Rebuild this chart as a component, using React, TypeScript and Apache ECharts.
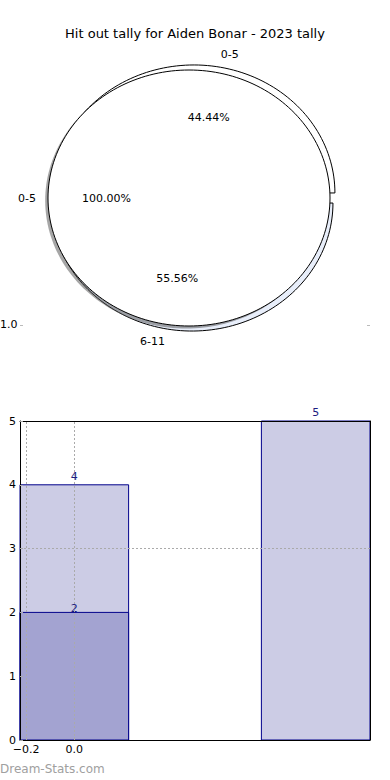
import { useEffect, useRef } from 'react';
import * as echarts from 'echarts';

const TITLE = 'Hit out tally for Aiden Bonar - 2023 tally';
const WATERMARK = 'Dream-Stats.com';

// Pie (per band) data
const pieCategories = ['0-5', '6-11'];
const pieValues = [4, 5];
// Overlaid single-slice pie
const totalCategories = ['0-5'];
const totalValues = [1];

// Bar data
const barPositions = [0, 1];
const barTotals = [4, 5];
const barSubPositions = [0];
const barSubValues = [2];
const xTickValues = [-0.2, 0.0];
const gridXValues = [-0.2, 0.0];
const gridYValues = [3];
const leftoverTickLabel = '1.0';

const FONT = 'DejaVu Sans, sans-serif';
const BAR_HALF = 0.225;

function fmtTick(v: number) {
  const s = Math.abs(v).toFixed(1);
  return v < 0 ? '\u2212' + s : s;
}

function makePieRender(
  names: string[],
  values: number[],
  fills: string[],
  explode: number,
  shadow: boolean,
  mode: 'shape' | 'label',
  cx: number
) {
  const total = values.reduce((a, b) => a + b, 0);
  return (params: any, api: any) => {
    const i = params.dataIndex;
    let before = 0;
    for (let j = 0; j < i; j++) before += values[j];
    const a0 = (before / total) * Math.PI * 2;
    const a1 = ((before + values[i]) / total) * Math.PI * 2;
    const mid = (a0 + a1) / 2;
    const full = values[i] === total;
    const ex = cx + (full ? 0 : explode * Math.cos(mid));
    const ey = full ? 0 : explode * Math.sin(mid);
    const children: any[] = [];
    if (mode === 'shape') {
      const build = (dx: number, dy: number) => {
        const pts: number[][] = [];
        if (!full) pts.push(api.coord([ex + dx, ey + dy]));
        const n = Math.max(12, Math.ceil(((a1 - a0) / (Math.PI * 2)) * 200));
        for (let k = 0; k <= n; k++) {
          const t = a0 + ((a1 - a0) * k) / n;
          pts.push(api.coord([ex + dx + Math.cos(t), ey + dy + Math.sin(t)]));
        }
        return pts;
      };
      if (shadow) {
        children.push({
          type: 'polygon',
          shape: { points: build(-0.02, -0.02) },
          style: { fill: 'rgba(77,77,77,0.5)', stroke: 'none' },
        });
      }
      children.push({
        type: 'polygon',
        shape: { points: build(0, 0) },
        style: { fill: fills[i % fills.length], stroke: '#000', lineWidth: 1 },
      });
    } else {
      const lp = api.coord([ex + 0.6 * Math.cos(mid), ey + 0.6 * Math.sin(mid)]);
      children.push({
        type: 'text',
        x: lp[0],
        y: lp[1],
        style: {
          text: ((values[i] / total) * 100).toFixed(2) + '%',
          fill: '#000',
          font: '11px ' + FONT,
          align: 'center',
          verticalAlign: 'middle',
        },
      });
      const np = api.coord([ex + 1.1 * Math.cos(mid), ey + 1.1 * Math.sin(mid)]);
      children.push({
        type: 'text',
        x: np[0],
        y: np[1],
        style: {
          text: names[i],
          fill: '#000',
          font: '11px ' + FONT,
          align: Math.cos(mid) >= 0 ? 'left' : 'right',
          verticalAlign: 'middle',
        },
      });
    }
    return { type: 'group', children };
  };
}

function makeBarRender(fill: string, labelOffset: number) {
  return (params: any, api: any) => {
    const x = api.value(0);
    const v = api.value(1);
    const tl = api.coord([x - BAR_HALF, v]);
    const br = api.coord([x + BAR_HALF, 0]);
    return {
      type: 'group',
      children: [
        {
          type: 'rect',
          shape: { x: tl[0], y: tl[1], width: br[0] - tl[0], height: br[1] - tl[1] },
          style: { fill, stroke: '#00008b', lineWidth: 1 },
        },
        {
          type: 'text',
          x: (tl[0] + br[0]) / 2,
          y: tl[1] - labelOffset,
          style: {
            text: String(v),
            fill: '#1c1c80',
            font: '11px ' + FONT,
            align: 'center',
            verticalAlign: 'bottom',
          },
        },
      ],
    };
  };
}

export default function App() {
  const ref = useRef<HTMLDivElement>(null);
  useEffect(() => {
    if (!ref.current) return;
    const chart = echarts.init(ref.current, null, { renderer: 'svg' });
    const axisLine = { show: true, onZero: false, lineStyle: { color: '#000', width: 1 } };
    const pieData = pieValues.map((v, i) => [i, v]);
    const totalData = totalValues.map((v, i) => [i, v]);
    const outerFills = ['#ffffff', '#e8eefa'];
    const OUTER_CX = 0.028;
    const EXPLODE = 0.04;
    const option: any = {
      animation: false,
      backgroundColor: '#fff',
      textStyle: { fontFamily: FONT },
      title: {
        text: TITLE,
        left: 'center',
        top: 22,
        textStyle: { fontSize: 13, fontWeight: 'normal', color: '#000', fontFamily: FONT },
      },
      grid: [
        { left: 19.8, top: 44.4, width: 338.4, height: 307.2 },
        { left: 20, right: 20, top: 421, bottom: 40 },
      ],
      xAxis: [
        { gridIndex: 0, type: 'value', min: -1.2, max: 1.2, show: false },
        {
          gridIndex: 1,
          type: 'value',
          min: -BAR_HALF,
          max: 1 + BAR_HALF,
          z: 5,
          axisLine,
          axisTick: { show: true, inside: true, length: 3, customValues: xTickValues, lineStyle: { color: '#aaa' } },
          axisLabel: {
            customValues: xTickValues,
            formatter: (v: number) => fmtTick(v),
            color: '#000',
            fontSize: 11,
            fontFamily: FONT,
            margin: 4,
          },
          splitLine: { show: false },
        },
        {
          gridIndex: 1,
          type: 'value',
          position: 'top',
          min: -BAR_HALF,
          max: 1 + BAR_HALF,
          z: 5,
          axisLine,
          axisTick: { show: false },
          axisLabel: { show: false },
          splitLine: { show: false },
        },
      ],
      yAxis: [
        { gridIndex: 0, type: 'value', min: -1.2, max: 1.2, show: false },
        {
          gridIndex: 1,
          type: 'value',
          min: 0,
          max: 5,
          interval: 1,
          z: 5,
          axisLine,
          axisTick: { show: true, inside: true, length: 3, lineStyle: { color: '#aaa' } },
          axisLabel: { color: '#000', fontSize: 11, fontFamily: FONT, margin: 4 },
          splitLine: { show: false },
        },
        {
          gridIndex: 1,
          type: 'value',
          position: 'right',
          min: 0,
          max: 5,
          z: 5,
          axisLine,
          axisTick: { show: false },
          axisLabel: { show: false },
          splitLine: { show: false },
        },
      ],
      series: [
        {
          type: 'custom',
          xAxisIndex: 0,
          yAxisIndex: 0,
          z: 2,
          renderItem: makePieRender(pieCategories, pieValues, outerFills, EXPLODE, false, 'shape', OUTER_CX),
          data: pieData,
        },
        {
          type: 'custom',
          xAxisIndex: 0,
          yAxisIndex: 0,
          z: 3,
          renderItem: makePieRender(totalCategories, totalValues, ['#ffffff'], 0, true, 'shape', 0),
          data: totalData,
        },
        {
          type: 'custom',
          xAxisIndex: 0,
          yAxisIndex: 0,
          z: 4,
          renderItem: makePieRender(pieCategories, pieValues, outerFills, EXPLODE, false, 'label', OUTER_CX),
          data: pieData,
        },
        {
          type: 'custom',
          xAxisIndex: 0,
          yAxisIndex: 0,
          z: 4,
          renderItem: makePieRender(totalCategories, totalValues, ['#ffffff'], 0, false, 'label', 0.015),
          data: totalData,
        },
        {
          type: 'custom',
          xAxisIndex: 1,
          yAxisIndex: 1,
          z: 2,
          renderItem: makeBarRender('#ccccE5', 3),
          data: barPositions.map((x, i) => [x, barTotals[i]]),
        },
        {
          type: 'custom',
          xAxisIndex: 1,
          yAxisIndex: 1,
          z: 3,
          renderItem: makeBarRender('#a3a3d1', -2),
          data: barSubPositions.map((x, i) => [x, barSubValues[i]]),
        },
        {
          type: 'line',
          xAxisIndex: 1,
          yAxisIndex: 1,
          data: [],
          z: 6,
          markLine: {
            silent: true,
            symbol: ['none', 'none'],
            label: { show: false },
            lineStyle: { type: [2, 2], color: '#aaa', width: 1 },
            data: [
              ...gridXValues.map((x) => ({ xAxis: x })),
              ...gridYValues.map((y) => ({ yAxis: y })),
            ],
          },
        },
      ],
      graphic: [
        {
          type: 'text',
          left: 0,
          top: 319,
          style: { text: leftoverTickLabel, fill: '#000', font: '11px ' + FONT },
        },
        { type: 'rect', shape: { x: 20, y: 325, width: 3, height: 1 }, style: { fill: '#bbb' } },
        { type: 'rect', shape: { x: 367, y: 325, width: 3, height: 1 }, style: { fill: '#bbb' } },
        {
          type: 'text',
          left: 0,
          top: 763,
          style: { text: WATERMARK, fill: '#a0a0a0', font: '12px ' + FONT },
        },
      ],
    };
    chart.setOption(option);
    return () => chart.dispose();
  }, []);
  return (
    <div
      ref={ref}
      style={{ position: 'absolute', left: 0, top: 0, width: 390, height: 780 }}
    />
  );
}
